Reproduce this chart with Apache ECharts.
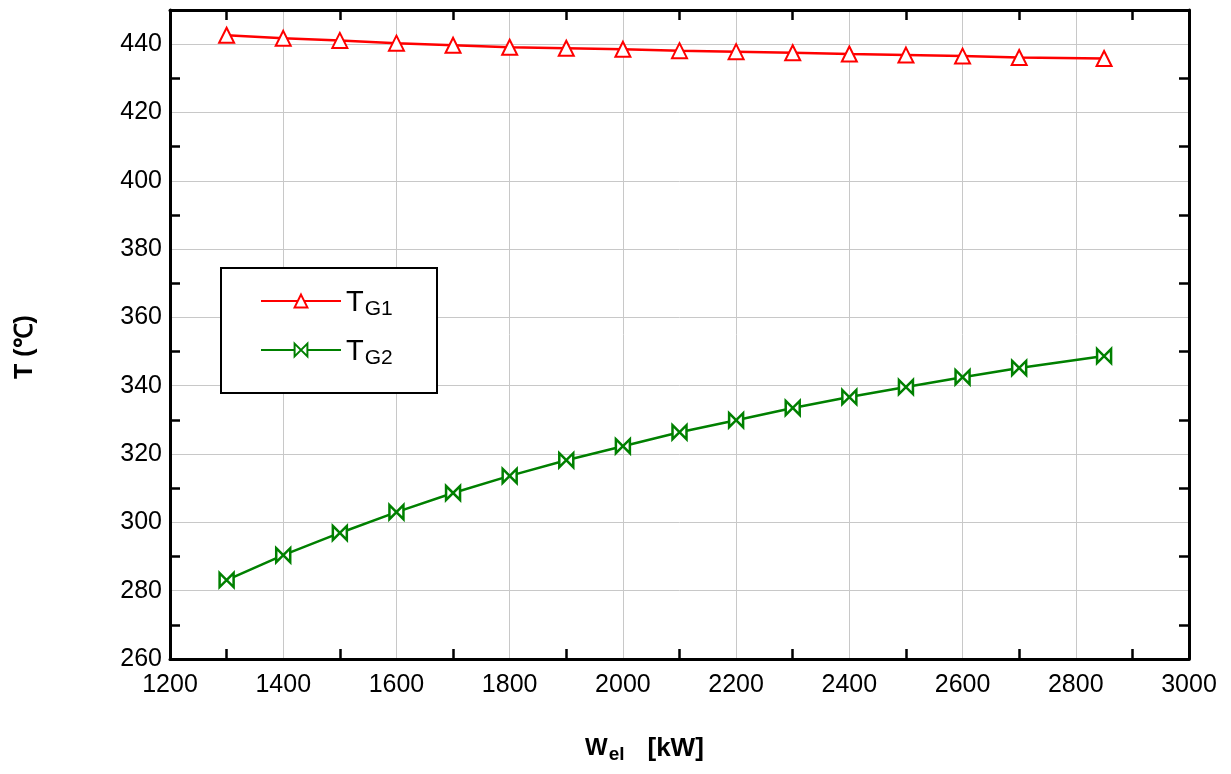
<!DOCTYPE html>
<html>
<head>
<meta charset="utf-8">
<script src="https://cdn.jsdelivr.net/npm/echarts@6/dist/echarts.min.js"></script>
<style>
html,body{margin:0;padding:0;background:#fff;}
#chart{width:1231px;height:774px;}
</style>
</head>
<body>
<div id="chart"></div>
<script>
// ---- data ----
const powerKW = [1300, 1400, 1500, 1600, 1700, 1800, 1900, 2000, 2100, 2200, 2300, 2400, 2500, 2600, 2700, 2850];
const tG1 = [442.6, 441.7, 441.1, 440.3, 439.7, 439.1, 438.8, 438.5, 438.1, 437.8, 437.5, 437.1, 436.8, 436.5, 436.1, 435.8];
const tG2 = [283.1, 290.4, 296.9, 303.0, 308.6, 313.6, 318.2, 322.3, 326.4, 329.9, 333.5, 336.7, 339.6, 342.5, 345.2, 348.7];
const seriesNames = ['TG1', 'TG2'];
const xMin = 1200, xMax = 3000, xStep = 200;
const yMin = 260, yMax = 450, yStep = 20;
// minor-tick positions on the y axis (every 10 units; ticks drawn at odd ones)
const yTickCats = ['260','270','280','290','300','310','320','330','340','350','360','370','380','390','400','410','420','430','440','450'];

const FONT = '"Liberation Sans", Arial, Helvetica, sans-serif';
const chart = echarts.init(document.getElementById('chart'), null, {renderer: 'canvas'});

const tickStyle = {color: '#000', width: 2.5};
const axisLineStyle = {show: true, lineStyle: {color: '#000', width: 3}};

const option = {
  backgroundColor: '#fff',
  animation: false,
  grid: {left: 170, right: 42, top: 10, bottom: 115, containLabel: false},
  xAxis: [
    {
      type: 'value', position: 'bottom', min: xMin, max: xMax, interval: xStep,
      axisLine: axisLineStyle,
      axisTick: {show: false, inside: true},
      minorTick: {show: true, splitNumber: 2, length: 10, lineStyle: tickStyle},
      axisLabel: {color: '#000', fontSize: 25, fontFamily: FONT, margin: 14, formatter: v => String(v)},
      splitLine: {show: true, lineStyle: {color: '#c8c8c8', width: 1}}
    },
    {
      type: 'value', position: 'top', min: xMin, max: xMax, interval: xStep,
      axisLine: axisLineStyle,
      axisTick: {show: false, inside: true},
      minorTick: {show: true, splitNumber: 2, length: 10, lineStyle: tickStyle},
      axisLabel: {show: false},
      splitLine: {show: false}
    }
  ],
  yAxis: [
    {
      type: 'value', position: 'left', min: yMin, max: yMax, interval: yStep,
      axisLine: axisLineStyle,
      axisTick: {show: false},
      axisLabel: {color: '#000', fontSize: 25, fontFamily: FONT, margin: 8,
        formatter: v => (v % yStep === 0 ? String(v) : '')},
      splitLine: {show: true, lineStyle: {color: '#c8c8c8', width: 1}}
    },
    {
      type: 'category', position: 'left', data: yTickCats, boundaryGap: false,
      axisLine: {show: false},
      axisTick: {show: true, inside: true, length: 10, lineStyle: tickStyle, interval: (i) => i % 2 === 1},
      axisLabel: {show: false}, splitLine: {show: false}
    },
    {
      type: 'category', position: 'right', data: yTickCats, boundaryGap: false,
      axisLine: axisLineStyle,
      axisTick: {show: true, inside: true, length: 10, lineStyle: tickStyle, interval: (i) => i % 2 === 1},
      axisLabel: {show: false}, splitLine: {show: false}
    }
  ],
  legend: {
    show: true, orient: 'vertical', left: 260, top: 282, padding: 0,
    itemWidth: 80, itemHeight: 16, itemGap: 11,
    data: seriesNames,
    formatter: name => '{a|T}{b|' + name.slice(1) + '}',
    textStyle: {
      color: '#000', fontFamily: FONT,
      rich: {
        a: {fontSize: 29, lineHeight: 25, verticalAlign: 'top', fontFamily: FONT, color: '#000'},
        b: {fontSize: 21, lineHeight: 20, padding: [17, 0, 0, 1], fontFamily: FONT, color: '#000'}
      }
    }
  },
  graphic: [
    {type: 'rect', z: 3, shape: {x: 221, y: 268, width: 216, height: 125},
      style: {fill: '#fff', stroke: '#000', lineWidth: 2}},
    {type: 'text', x: 25, y: 347, rotation: Math.PI / 2, z: 5,
      style: {text: 'T (℃)', font: 'bold 25px ' + FONT, fill: '#000', align: 'center', verticalAlign: 'middle'}},
    {type: 'text', x: 585, y: 748, z: 5,
      style: {
        text: '{w|W}{s|el}{k|[kW]}', align: 'left', verticalAlign: 'middle', fill: '#000',
        rich: {
          w: {font: 'bold 24px ' + FONT, lineHeight: 24, verticalAlign: 'top', fill: '#000'},
          s: {font: 'bold 19px ' + FONT, lineHeight: 19, padding: [13, 0, 0, 1], fill: '#000'},
          k: {font: 'bold 26px ' + FONT, lineHeight: 24, verticalAlign: 'top', padding: [0, 0, 0, 23], fill: '#000'}
        }
      }}
  ],
  series: [
    {
      name: seriesNames[0], type: 'line', xAxisIndex: 0, yAxisIndex: 0,
      data: powerKW.map((x, i) => [x, tG1[i]]),
      symbol: 'emptyTriangle', symbolSize: 15, showAllSymbol: true,
      lineStyle: {color: '#ff0000', width: 2.5},
      itemStyle: {color: '#ff0000', borderWidth: 2.5},
      z: 5
    },
    {
      name: seriesNames[1], type: 'line', xAxisIndex: 0, yAxisIndex: 0,
      data: powerKW.map((x, i) => [x, tG2[i]]),
      symbol: 'path://M0,0 L10,10 L10,0 L0,10 Z', symbolSize: [14, 14], symbolKeepAspect: false, showAllSymbol: true,
      lineStyle: {color: '#008000', width: 2.5},
      itemStyle: {color: '#ffffff', borderColor: '#008000', borderWidth: 2.5},
      z: 5
    }
  ]
};
chart.setOption(option);
</script>
</body>
</html>
